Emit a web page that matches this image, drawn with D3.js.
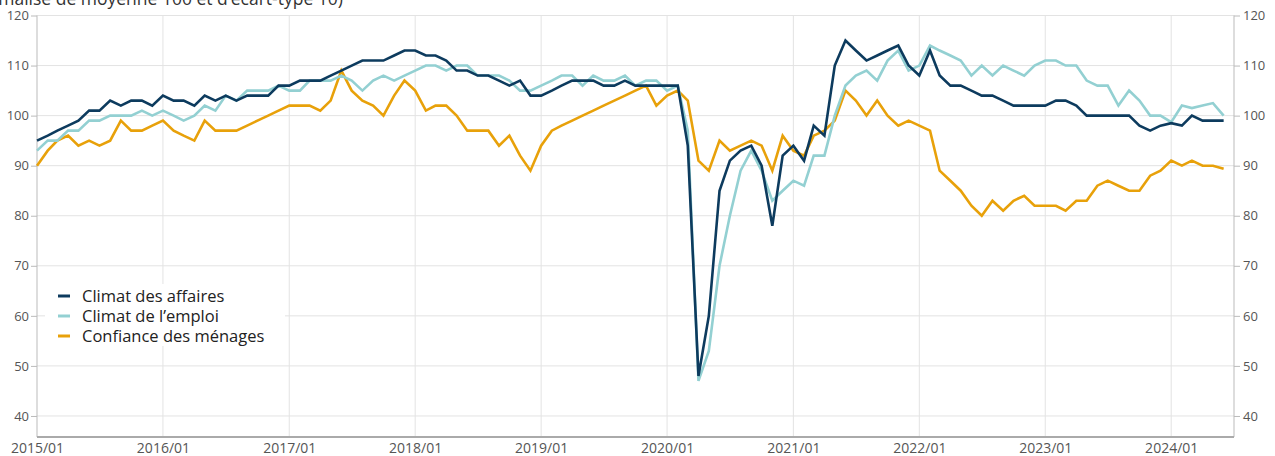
<!DOCTYPE html>
<html><head><meta charset="utf-8">
<script src="https://cdn.jsdelivr.net/npm/d3@7"></script>
<style>body{margin:0;background:#fff;} svg{display:block;font-family:"Open Sans",sans-serif;}</style>
</head><body><svg id="c" width="1275" height="456"></svg>
<script>
const startYear = 2015, startMonthIdx = 0;
const affaires = [95,96,97,98,99,101,101,103,102,103,103,102,
104,103,103,102,104,103,104,103,104,104,104,106,
106,107,107,107,108,109,110,111,111,111,112,113,
113,112,112,111,109,109,108,108,107,106,107,104,
104,105,106,107,107,107,106,106,107,106,106,106,
106,106,94,48,60,85,91,93,94,90,78,92,
94,91,98,96,110,115,113,111,112,113,114,110,
108,113,108,106,106,105,104,104,103,102,102,102,
102,103,103,102,100,100,100,100,100,98,97,98,
98.5,98,100,99,99,99];
const emploi = [93,95,95,97,97,99,99,100,100,100,101,100,
101,100,99,100,102,101,104,103,105,105,105,106,
105,105,107,107,107,108,107,105,107,108,107,108,
109,110,110,109,110,110,108,108,108,107,105,105,
106,107,108,108,106,108,107,107,108,106,107,107,
105,106,97,47,53,70,80,89,93,89,83,85,
87,86,92,92,100,106,108,109,107,111,113,109,
110,114,113,112,111,108,110,108,110,109,108,110,
111,111,110,110,107,106,106,102,105,103,100,100,
98.7,102,101.5,102,102.5,100];
const menages = [90,93,95,96,94,95,94,95,99,97,97,98,
99,97,96,95,99,97,97,97,98,99,100,101,
102,102,102,101,103,109,105,103,102,100,104,107,
105,101,102,102,100,97,97,97,94,96,92,89,
94,97,98,99,100,101,102,103,104,105,106,102,
104,105,103,91,89,95,93,94,95,94,89,96,
93,92,96,97,99,105,103,100,103,100,98,99,
98,97,89,87,85,82,80,83,81,83,84,82,
82,82,81,83,83,86,87,86,85,85,88,89,
91,90,91,90,90,89.4];
const seriesNames = ["Climat des affaires","Climat de l’emploi","Confiance des ménages"];
const seriesColors = ["#0d3b5e","#93d0d2","#e8a10a"];
const yTicks = [40,50,60,70,80,90,100,110,120];
const xTickLabels = ["2015/01","2016/01","2017/01","2018/01","2019/01","2020/01","2021/01","2022/01","2023/01","2024/01"];
const titleText = "(normalisé de moyenne 100 et d’écart-type 10)";

const svg = d3.select("#c");
const L = 37, R = 1234, T = 15.5, B = 437;
const months = affaires.map((_, i) => new Date(startYear, startMonthIdx + i, 1));
const x = d3.scaleTime().domain([new Date(2015,0,1), new Date(2024,6,1)]).range([L, R]);
const y = d3.scaleLinear().domain([35.8, 120]).range([B, T]);
const parse = d3.timeParse("%Y/%m");
const xTicks = xTickLabels.map(parse);

// gridlines
svg.append("g").selectAll("line.h").data(yTicks).join("line")
  .attr("x1", L).attr("x2", R).attr("y1", d => y(d)).attr("y2", d => y(d))
  .attr("stroke", "#e3e3e3").attr("stroke-width", 1);
svg.append("g").selectAll("line.v").data(xTicks.slice(1)).join("line")
  .attr("x1", d => x(d)).attr("x2", d => x(d)).attr("y1", T).attr("y2", B)
  .attr("stroke", "#e3e3e3").attr("stroke-width", 1);

// axes
const left = svg.append("g").attr("transform", `translate(${L},0)`)
  .call(d3.axisLeft(y).tickValues(yTicks).tickSize(6).tickPadding(2));
const right = svg.append("g").attr("transform", `translate(${R},0)`)
  .call(d3.axisRight(y).tickValues(yTicks).tickSize(6).tickPadding(3));
const bottom = svg.append("g").attr("transform", `translate(0,${B})`)
  .call(d3.axisBottom(x).tickValues(xTicks).tickSize(0).tickPadding(6).tickFormat(d3.timeFormat("%Y/%m")));
[left, right, bottom].forEach(g => {
  g.selectAll("text").attr("font-family", "Open Sans").attr("font-size", 13).attr("fill", "#555");
  g.selectAll(".tick line").attr("stroke", "#bbb");
  g.select(".domain").attr("stroke", "#bbb");
});
bottom.selectAll("text").attr("font-size", 14);
left.select(".domain").attr("d", `M0,${T}V${B}`);
right.select(".domain").attr("d", `M0,${T}V${B}`);
bottom.select(".domain").attr("stroke", "#aaa").attr("stroke-width", 2).attr("d", `M${L},0H${R}`);

// lines
const line = d3.line().x((d, i) => x(months[i])).y(d => y(d));
const allSeries = [affaires, emploi, menages];
[2,1,0].forEach(k => {
  svg.append("path").datum(allSeries[k]).attr("d", line)
    .attr("fill", "none").attr("stroke", seriesColors[k]).attr("stroke-width", 2.6)
    .attr("stroke-linejoin", "miter");
});

// legend
const lg = svg.append("g");
lg.append("rect").attr("x", 45).attr("y", 284).attr("width", 240).attr("height", 62).attr("fill", "#fff");
seriesNames.forEach((n, i) => {
  const yy = 296 + i * 20;
  lg.append("line").attr("x1", 58).attr("x2", 70).attr("y1", yy).attr("y2", yy)
    .attr("stroke", seriesColors[i]).attr("stroke-width", 3);
  lg.append("text").attr("x", 82).attr("y", yy + 5.5).text(n)
    .attr("font-size", 16.5).attr("fill", "#222");
});

// title (partially cut at top-left, as in the reference)
svg.append("text").attr("x", 343).attr("y", 5).attr("text-anchor", "end")
  .attr("font-size", 17.5).attr("fill", "#333").text(titleText);
</script></body></html>
